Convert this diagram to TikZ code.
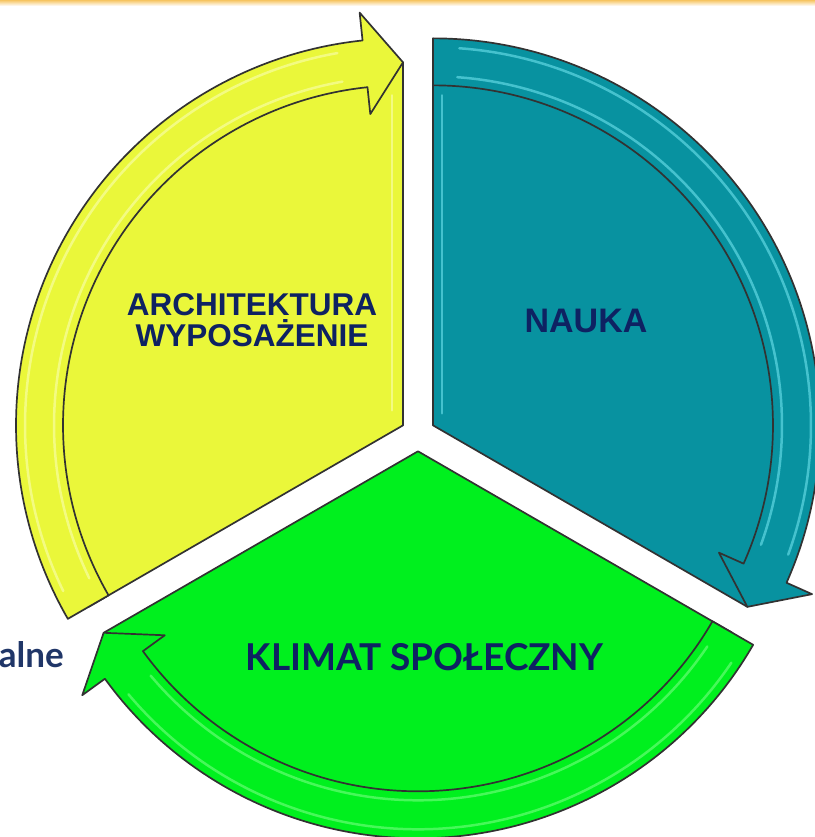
\documentclass[tikz,border=0pt]{standalone}
\usepackage{fontspec}
\usepackage{xcolor}
\usetikzlibrary{calc, scopes, positioning}
\newfontfamily\liberation{Liberation Sans}
\newfontfamily\lato{Lato}

\definecolor{yellowseg}{RGB}{234,247,58}
\definecolor{yellowgloss}{RGB}{252,255,190}
\definecolor{tealseg}{RGB}{8,146,160}
\definecolor{tealgloss}{RGB}{120,235,245}
\definecolor{greenseg}{RGB}{0,240,30}
\definecolor{greengloss}{RGB}{130,255,140}
\definecolor{outline}{RGB}{50,50,50}
\definecolor{navytext}{RGB}{14,34,98}
\definecolor{alnetext}{RGB}{32,54,104}
\definecolor{topline}{RGB}{246,196,96}

\tikzset{
	segment/.style = {draw = outline, line width = 1.7pt, line join = round},
	band/.style = {draw = outline, line width = 1.7pt, line join = round},
	gloss/.style = {line width = 2.5pt, line cap = round, opacity = 0.55},
	caption/.style = {text = navytext, inner sep = 0pt, anchor = base}
}

\begin{document}
\begin{tikzpicture}[x = 1bp, y = 1bp]
		\useasboundingbox (-418, -403) rectangle (397, 434);
		\shade [top color = topline, bottom color = white] (-418, 428) rectangle (397, 434);

		% yellow segment
		\begin{scope}[shift = {(150:17.3)}]
			\coordinate (cY) at (0, 0);
			\draw [segment, fill = yellowseg] (cY) -- (210:363) arc [start angle = 210, end angle = 90, radius = 363] -- cycle;
			\draw [gloss, yellowgloss] (-11, 15) -- (-11, 330);
			\draw [band, fill = yellowseg] (210:387) arc [start angle = 210, end angle = 96, radius = 387] -- (96:415) -- (90:363) -- (96:313) -- (96:340) arc [start angle = 96, end angle = 210, radius = 340] -- cycle;
			\draw [gloss, yellowgloss] (206:378) arc [start angle = 206, end angle = 100, radius = 378];
			\draw [gloss, yellowgloss] (206:349) arc [start angle = 206, end angle = 100, radius = 349];
		\end{scope}

		% teal segment
		\begin{scope}[shift = {(30:17.3)}]
			\coordinate (cT) at (0, 0);
			\draw [segment, fill = tealseg] (cT) -- (90:363) arc [start angle = 90, end angle = -30, radius = 363] -- cycle;
			\draw [gloss, tealgloss] (9, 12) -- (9, 330);
			\draw [band, fill = tealseg] (90:387) arc [start angle = 90, end angle = -24, radius = 387] -- (-24:415) -- (-30:363) -- (-24:313) -- (-24:340) arc [start angle = -24, end angle = 90, radius = 340] -- cycle;
			\draw [gloss, tealgloss] (86:378) arc [start angle = 86, end angle = -20, radius = 378];
			\draw [gloss, tealgloss] (86:349) arc [start angle = 86, end angle = -20, radius = 349];
		\end{scope}

		% green segment
		\begin{scope}[shift = {(270:17.3)}]
			\coordinate (cG) at (0, 0);
			\draw [segment, fill = greenseg] (cG) -- (330:363) arc [start angle = 330, end angle = 210, radius = 363] -- cycle;
			\draw [band, fill = greenseg] (330:387) arc [start angle = 330, end angle = 216, radius = 387] -- (216:415) -- (210:363) -- (216:313) -- (216:340) arc [start angle = 216, end angle = 330, radius = 340] -- cycle;
			\draw [gloss, greengloss] (326:378) arc [start angle = 326, end angle = 220, radius = 378];
			\draw [gloss, greengloss] (326:349) arc [start angle = 326, end angle = 220, radius = 349];
		\end{scope}

		\node [caption, font = \liberation\bfseries\fontsize{31.5bp}{32bp}\selectfont] (archi) at (-166, 118) {ARCHITEKTURA};
		\node [caption, font = \liberation\bfseries\fontsize{31.5bp}{32bp}\selectfont] (wypos) at (-166, 87) {WYPOSAŻENIE};
		\node [caption, font = \liberation\bfseries\fontsize{34bp}{36bp}\selectfont] (nauka) at (168, 101) {NAUKA};
		\node [caption, font = \lato\bfseries\fontsize{37bp}{40bp}\selectfont] (klimat) at (6.5, -236) {KLIMAT SPOŁECZNY};
		\node [caption, anchor = base east, text = alnetext, font = \lato\bfseries\fontsize{35bp}{38bp}\selectfont] (alne) at (-354, -233) {alne};
	\end{tikzpicture}
\end{document}
